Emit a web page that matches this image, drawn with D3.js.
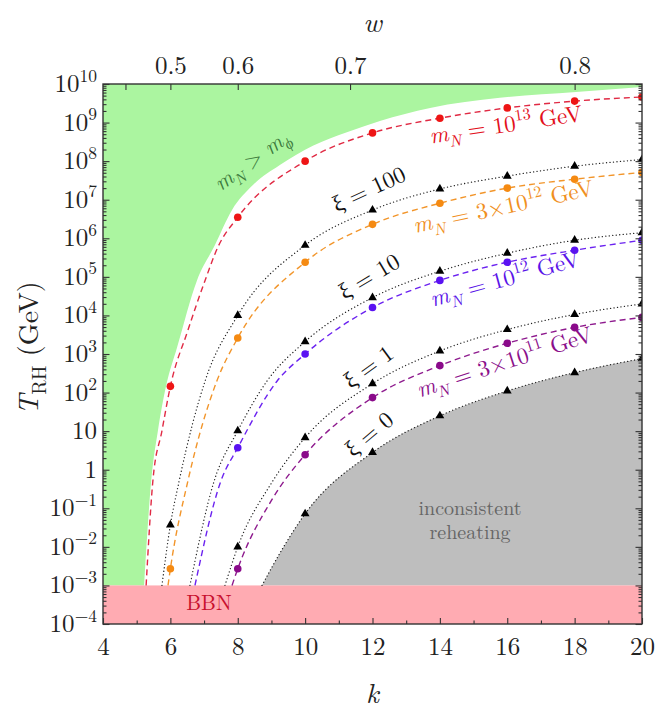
<!DOCTYPE html>
<html><head><meta charset="utf-8">
<script src="https://cdn.jsdelivr.net/npm/d3@7/dist/d3.min.js"></script>
<style>body{margin:0;background:#fff}svg{display:block}text{font-family:"Latin Modern Roman","Liberation Serif","DejaVu Serif",serif}</style>
</head><body><svg id="c" width="659" height="711"></svg>
<script>
// ---------- data ----------
const kTicks = [4, 6, 8, 10, 12, 14, 16, 18, 20];
const kMinor = [5, 7, 9, 11, 13, 15, 17, 19];
const wTicks = [0.4, 0.5, 0.6, 0.7, 0.8];
const wLabels = ["", "0.5", "0.6", "0.7", "0.8"];
const yExps = [10, 9, 8, 7, 6, 5, 4, 3, 2, 1, 0, -1, -2, -3, -4];
const markerK = [6, 8, 10, 12, 14, 16, 18, 20];

// boundary of the m_N > m_phi region
const greenK = [5.22, 5.43, 5.63, 5.87, 6.2, 6.79, 7.32, 7.83, 8.45, 9.25, 10.23, 11.24, 12.22, 13.71, 15.78, 18.04, 20];
const greenT = [1e-3, 0.51, 10.2, 145, 1.5e3, 8.1e4, 6.6e5, 5.4e6, 2.4e7, 7.9e7, 2.5e8, 5.6e8, 1.1e9, 2.4e9, 4.4e9, 6.2e9, 8.3e9];

// m_N = 1e13 GeV
const redK = [5.28, 5.48, 5.75, 6, 6.52, 7.03, 7.41, 8, 10, 12, 14, 16, 18, 20];
const redT = [1e-3, 0.51, 10.2, 145, 4.1e3, 8.1e4, 5.9e5, 3.5e6, 1.0e8, 5.4e8, 1.3e9, 2.4e9, 3.6e9, 4.6e9];
// m_N = 3e12 GeV
const orangeK = [5.93, 6, 6.52, 7.38, 8, 10, 12, 14, 16, 18, 20];
const orangeT = [1e-3, 2.7e-3, 0.51, 2.0e2, 2.6e3, 2.4e5, 2.3e6, 8.1e6, 2.0e7, 3.4e7, 5.1e7];
// m_N = 1e12 GeV
const blueK = [6.73, 7.5, 8, 9.17, 10, 12, 14, 16, 18, 20];
const blueT = [1e-3, 0.51, 3.7, 2.0e2, 1.0e3, 1.6e4, 8.1e4, 2.4e5, 4.9e5, 8.9e5];
// m_N = 3e11 GeV
const purpleK = [7.83, 8, 9, 10, 12, 14, 16, 18, 20];
const purpleT = [1e-3, 2.7e-3, 0.16, 2.45, 74, 5.0e2, 1.9e3, 4.9e3, 8.9e3];
// xi = 100, 10, 1, 0
const xi100K = [5.75, 6, 6.26, 7.03, 8, 10, 12, 14, 16, 18, 20];
const xi100T = [1e-3, 3.7e-2, 0.51, 2.0e2, 1.0e4, 6.6e5, 5.4e6, 1.9e7, 4.1e7, 7.4e7, 1.1e8];
const xi10K = [6.58, 7.3, 8, 8.87, 10, 12, 14, 16, 18, 20];
const xi10T = [1e-3, 0.51, 10.2, 2.0e2, 2.1e3, 2.9e4, 1.4e5, 4.1e5, 8.9e5, 1.4e6];
const xi1K = [7.62, 8, 9, 10, 12, 14, 16, 18, 20];
const xi1T = [1e-3, 1e-2, 0.45, 6.8, 1.7e2, 1.2e3, 4.3e3, 1.06e4, 2.0e4];
const xi0K = [8.72, 9.34, 10, 12, 14, 16, 18, 20];
const xi0T = [1e-3, 9.3e-3, 7.2e-2, 2.8, 25, 1.1e2, 3.3e2, 7.6e2];

const bbnT = [1e-4, 1e-3];

// ---------- layout ----------
const L = 103, R = 642, T = 84, B = 624;
const svg = d3.select("#c");
const x = d3.scaleLinear().domain([4, 20]).range([L, R]);
const y = d3.scaleLog().domain([1e-4, 1e10]).range([B, T]);
const kOfW = w => 2 * (1 + w) / (1 - w);

svg.append("defs").append("clipPath").attr("id", "clip")
  .append("rect").attr("x", L).attr("y", T).attr("width", R - L).attr("height", B - T);
const plot = svg.append("g").attr("clip-path", "url(#clip)");

const pts = (ks, ts) => ks.map((k, i) => [k, ts[i]]);
const line = d3.line().x(d => x(d[0])).y(d => y(d[1])).curve(d3.curveMonotoneX);

// green region
const gPath = line(pts(greenK, greenT)) +
  `L${x(20)},${y(1e10)}L${x(4)},${y(1e10)}L${x(4)},${y(1e-3)}Z`;
plot.append("path").attr("d", gPath).attr("fill", "#abf5a0");

// gray region (inconsistent reheating)
const grPath = line(pts(xi0K, xi0T)) + `L${x(20)},${y(1e-3)}Z`;
plot.append("path").attr("d", grPath).attr("fill", "#bebebe");

// BBN band
plot.append("rect").attr("x", x(4)).attr("width", x(20) - x(4))
  .attr("y", y(bbnT[1])).attr("height", y(bbnT[0]) - y(bbnT[1])).attr("fill", "#ffabb2");

// series lines
const dashed = [
  {k: redK, t: redT, line: "#e02a44", dot: "#ee1515"},
  {k: orangeK, t: orangeT, line: "#f2952a", dot: "#f58a12"},
  {k: blueK, t: blueT, line: "#6b22f0", dot: "#5a12f2"},
  {k: purpleK, t: purpleT, line: "#8e1a8e", dot: "#8a0a8a"}
];
const dotted = [
  {k: xi100K, t: xi100T}, {k: xi10K, t: xi10T}, {k: xi1K, t: xi1T}, {k: xi0K, t: xi0T}
];
dotted.forEach(s => {
  plot.append("path").attr("d", line(pts(s.k, s.t))).attr("fill", "none")
    .attr("stroke", "#222").attr("stroke-width", 1.3).attr("stroke-dasharray", "0.1,3.4")
    .attr("stroke-linecap", "round");
});
dashed.forEach(s => {
  plot.append("path").attr("d", line(pts(s.k, s.t))).attr("fill", "none")
    .attr("stroke", s.line).attr("stroke-width", 1.4).attr("stroke-dasharray", "6,4");
});
// markers (only at the computed even k values)
const isMark = d => markerK.includes(d[0]);
const tri = d3.symbol().type(d3.symbolTriangle).size(34);
dotted.forEach(s => {
  plot.selectAll(null).data(pts(s.k, s.t).filter(isMark)).enter()
    .append("path").attr("d", tri)
    .attr("transform", d => `translate(${x(d[0])},${y(d[1])})`).attr("fill", "#000");
});
dashed.forEach(s => {
  plot.selectAll(null).data(pts(s.k, s.t).filter(isMark)).enter()
    .append("circle").attr("cx", d => x(d[0])).attr("cy", d => y(d[1])).attr("r", 3.8)
    .attr("fill", s.dot);
});

// ---------- rich text helper ----------
function rich(sel, segs, fs) {
  let shift = 0;
  segs.forEach(s => {
    const tgt = s.sub ? 0.28 * fs : s.sup ? -0.42 * fs : 0;
    const t = sel.append("tspan").text(s.t).attr("dy", tgt - shift);
    shift = tgt;
    if (s.sub || s.sup) t.attr("font-size", fs * 0.7);
    if (s.i) t.attr("font-style", "italic");
  });
}
function label(cx, cy, ang, segs, fs, color) {
  const t = svg.append("text").attr("transform", `translate(${cx},${cy}) rotate(${ang})`)
    .attr("text-anchor", "middle").attr("font-size", fs).attr("fill", color);
  rich(t, segs, fs);
  return t;
}

// region labels
label(256, 166, -36, [{t: "m", i: 1}, {t: "N", i: 1, sub: 1}, {t: " > "}, {t: "m", i: 1}, {t: "ϕ", i: 1, sub: 1}], 22, "#3c7a3c");
label(507, 132, -8.5, [{t: "m", i: 1}, {t: "N", i: 1, sub: 1}, {t: " = 10"}, {t: "13", sup: 1}, {t: " GeV"}], 23, "#e3101c");
label(372, 196, -25, [{t: "ξ = 100"}], 23, "#111");
label(505, 214, -12, [{t: "m", i: 1}, {t: "N", i: 1, sub: 1}, {t: " = 3×10"}, {t: "12", sup: 1}, {t: " GeV"}], 23, "#f0901e");
label(373, 283, -31, [{t: "ξ = 10"}], 23, "#111");
label(507, 286, -15.5, [{t: "m", i: 1}, {t: "N", i: 1, sub: 1}, {t: " = 10"}, {t: "12", sup: 1}, {t: " GeV"}], 23, "#5a14e8");
label(373, 373, -36, [{t: "ξ = 1"}], 23, "#111");
label(507, 369, -18, [{t: "m", i: 1}, {t: "N", i: 1, sub: 1}, {t: " = 3×10"}, {t: "11", sup: 1}, {t: " GeV"}], 23, "#8b108b");
label(374, 440, -40, [{t: "ξ = 0"}], 23, "#111");
const inc = svg.append("text").attr("x", 470).attr("y", 515).attr("text-anchor", "middle")
  .attr("font-size", 20).attr("fill", "#666");
inc.append("tspan").attr("x", 470).attr("dy", 0).text("inconsistent");
inc.append("tspan").attr("x", 470).attr("dy", 24).text("reheating");
svg.append("text").attr("x", 209).attr("y", 610).attr("text-anchor", "middle")
  .attr("font-size", 21).attr("fill", "#c8102e").text("BBN");

// ---------- axes ----------
const axCol = "#333";
function styleAxis(g) {
  g.selectAll(".domain").remove();
  g.selectAll("line").attr("stroke", axCol).attr("stroke-width", 1.1);
}
// bottom
const gb = svg.append("g").attr("transform", `translate(0,${B})`)
  .call(d3.axisBottom(x).tickValues(kTicks).tickSizeInner(-6).tickSizeOuter(0).tickPadding(13).tickFormat(d3.format("d")));
styleAxis(gb);
gb.selectAll("text").attr("font-size", 25).attr("fill", "#222");
svg.append("g").attr("transform", `translate(0,${B})`)
  .call(d3.axisBottom(x).tickValues(kMinor).tickSizeInner(-3.5).tickSizeOuter(0).tickFormat(""))
  .call(styleAxis);
// top (w)
const gt = svg.append("g").attr("transform", `translate(0,${T})`)
  .call(d3.axisTop(x).tickValues(wTicks.map(kOfW)).tickSizeInner(-6).tickSizeOuter(0).tickPadding(10)
    .tickFormat((d, i) => wLabels[i]));
styleAxis(gt);
gt.selectAll("text").attr("font-size", 25).attr("fill", "#222");
// left / right
const majors = yExps.map(e => Math.pow(10, e));
const minors = [];
for (let e = -4; e < 10; e++) for (let m = 2; m <= 9; m++) minors.push(m * Math.pow(10, e));
svg.append("g").attr("transform", `translate(${L},0)`)
  .call(d3.axisLeft(y).tickValues(majors).tickSizeInner(-6.5).tickSizeOuter(0).tickFormat("")).call(styleAxis);
svg.append("g").attr("transform", `translate(${L},0)`)
  .call(d3.axisLeft(y).tickValues(minors).tickSizeInner(-3.5).tickSizeOuter(0).tickFormat("")).call(styleAxis);
svg.append("g").attr("transform", `translate(${R},0)`)
  .call(d3.axisRight(y).tickValues(majors).tickSizeInner(-6.5).tickSizeOuter(0).tickFormat("")).call(styleAxis);
svg.append("g").attr("transform", `translate(${R},0)`)
  .call(d3.axisRight(y).tickValues(minors).tickSizeInner(-3.5).tickSizeOuter(0).tickFormat("")).call(styleAxis);
// y tick labels
yExps.forEach(e => {
  const t = svg.append("text").attr("x", 97).attr("y", y(Math.pow(10, e)) + 8)
    .attr("text-anchor", "end").attr("font-size", 25).attr("fill", "#222");
  if (e === 0) rich(t, [{t: "1"}], 25);
  else if (e === 1) rich(t, [{t: "10"}], 25);
  else rich(t, [{t: "10"}, {t: (e < 0 ? "−" : "") + Math.abs(e), sup: 1}], 25);
});
// frame
svg.append("rect").attr("x", L).attr("y", T).attr("width", R - L).attr("height", B - T)
  .attr("fill", "none").attr("stroke", axCol).attr("stroke-width", 1.4);

// axis titles
svg.append("text").attr("x", (L + R) / 2).attr("y", 703).attr("text-anchor", "middle")
  .attr("font-size", 28).attr("font-style", "italic").attr("fill", "#222").text("k");
svg.append("text").attr("x", (L + R) / 2).attr("y", 32).attr("text-anchor", "middle")
  .attr("font-size", 28).attr("font-style", "italic").attr("fill", "#222").text("w");
const yl = svg.append("text").attr("transform", `translate(38,348) rotate(-90)`)
  .attr("text-anchor", "middle").attr("font-size", 28).attr("fill", "#222");
rich(yl, [{t: "T", i: 1}, {t: "RH", sub: 1}, {t: " (GeV)"}], 28);
</script></body></html>
